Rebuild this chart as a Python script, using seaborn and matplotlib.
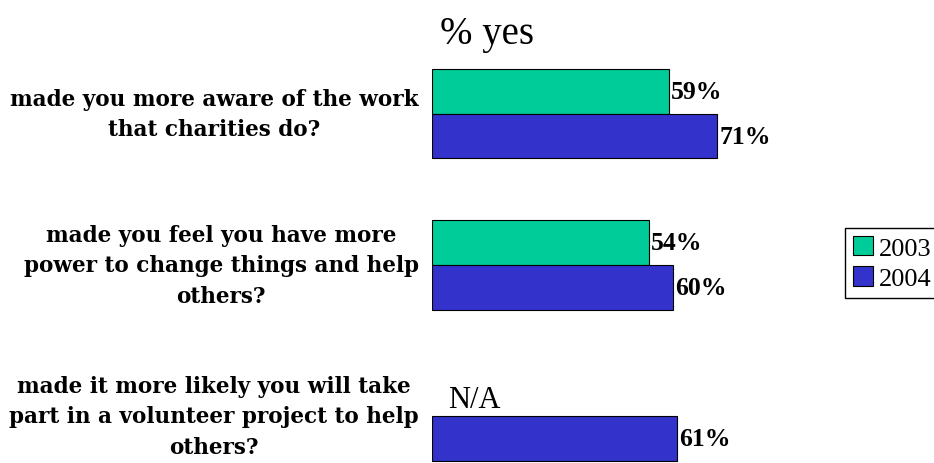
import numpy as np
import pandas as pd
import matplotlib
matplotlib.use('Agg')
import matplotlib.pyplot as plt
import seaborn as sns

questions = [
    'made you more aware of the work\nthat charities do?',
    'made you feel you have more\npower to change things and help\nothers?',
    'made it more likely you will take\npart in a volunteer project to help\nothers?',
]
years = ['2003', '2004']
pct_2003 = [59, 54, np.nan]
pct_2004 = [71, 60, 61]
colors = {'2003': '#00CC99', '2004': '#3333CC'}

df = pd.DataFrame({
    'question': questions * 2,
    'year': ['2003'] * 3 + ['2004'] * 3,
    'pct': pct_2003 + pct_2004,
}).dropna()

sns.set_style('white', {'text.color': 'black', 'ytick.color': 'black',
                        'axes.labelcolor': 'black'})
plt.rcParams['font.family'] = ['Liberation Serif', 'DejaVu Serif']

fig = plt.figure(figsize=(9.34, 4.64), dpi=100)
ax = fig.add_axes([432 / 934, 0, 401 / 934, 1])

sns.barplot(
    data=df, y='question', x='pct', hue='year',
    order=questions, hue_order=years, orient='h',
    palette=colors, width=0.59, saturation=1,
    edgecolor='black', linewidth=0.8, ax=ax, legend=True,
)

for cont in ax.containers:
    ax.bar_label(cont, fmt='%d%%', padding=2, fontsize=18.5, fontweight='bold',
                 color='black')

ax.set_xlim(0, 100)
ax.set_ylim(2.31, -0.76)
ax.set_xticks([])
ax.set_xlabel('')
ax.set_ylabel('')
for loc in ['top', 'bottom', 'right', 'left']:
    ax.spines[loc].set_visible(False)

ax.tick_params(axis='y', left=False, pad=6)
for lbl in ax.get_yticklabels():
    lbl.set_multialignment('center')
    lbl.set_verticalalignment('center')
    lbl.set_linespacing(1.5)
    lbl.set_fontsize(15.5)
    lbl.set_fontweight('bold')
    lbl.set_family('DejaVu Serif')
    lbl.set_color('black')

ax.text(2, -0.53, '% yes', fontsize=28, va='center', ha='left', color='black')
ax.text(4, 2 - 0.11, 'N/A', fontsize=22, va='center', ha='left', color='black')

handles, labels = ax.get_legend_handles_labels()
ax.legend(
    handles, labels, loc='upper left',
    bbox_to_anchor=(845 / 934, 1 - 229 / 464), bbox_transform=fig.transFigure,
    frameon=True, fancybox=False, edgecolor='black', framealpha=1,
    fontsize=19, handlelength=0.75, handleheight=0.75, handletextpad=0.25,
    borderpad=0.3, labelspacing=0.25, borderaxespad=0,
)

fig.savefig('out.png', dpi=100)
